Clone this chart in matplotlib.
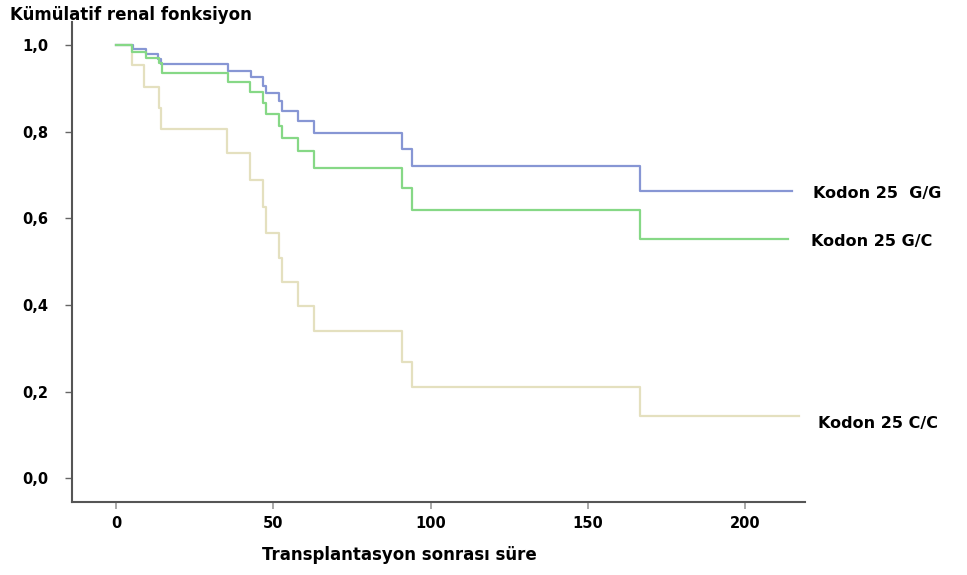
import matplotlib
matplotlib.use("Agg")
import matplotlib.pyplot as plt

# Kaplan-Meier style step data (time, cumulative survival)
gg_times = [0, 5.5, 9.4, 13.4, 14.2, 35.6, 42.9, 46.6, 47.6, 51.8, 52.6, 57.7, 63, 91, 94, 166.6, 215]
gg_surv = [1.0, 0.990, 0.979, 0.967, 0.955, 0.941, 0.926, 0.906, 0.888, 0.870, 0.848, 0.824, 0.797, 0.759, 0.720, 0.664, 0.664]

gc_times = [0, 5.1, 9.4, 13.7, 14.5, 35.6, 42.6, 46.6, 47.6, 51.8, 52.6, 57.7, 63, 91, 94, 166.6, 213.6]
gc_surv = [1.0, 0.983, 0.970, 0.958, 0.936, 0.915, 0.891, 0.867, 0.840, 0.812, 0.785, 0.755, 0.717, 0.669, 0.619, 0.551, 0.551]

cc_times = [0, 5.0, 9.0, 13.7, 14.3, 35.4, 42.7, 46.6, 47.7, 51.9, 52.6, 57.7, 63, 91, 94, 166.6, 217]
cc_surv = [1.0, 0.954, 0.904, 0.855, 0.806, 0.750, 0.688, 0.626, 0.566, 0.508, 0.453, 0.398, 0.340, 0.269, 0.211, 0.143, 0.143]

series_labels = ["Kodon 25  G/G", "Kodon 25 G/C", "Kodon 25 C/C"]
x_ticks = [0, 50, 100, 150, 200]
y_ticks = [0.0, 0.2, 0.4, 0.6, 0.8, 1.0]
y_tick_labels = ["0,0", "0,2", "0,4", "0,6", "0,8", "1,0"]

FONT = "DejaVu Sans"

fig = plt.figure(figsize=(9.67, 5.75), dpi=100)
ax = fig.add_axes([72 / 967, 1 - 502 / 575, (805 - 72) / 967, (502 - 22) / 575])

cc_col = "#e4e0bf"
gc_col = "#86d886"
gg_col = "#8796d4"

ax.step(cc_times, cc_surv, where="post", color=cc_col, lw=1.6)
ax.step(gg_times, gg_surv, where="post", color=gg_col, lw=1.6)
ax.step(gc_times, gc_surv, where="post", color=gc_col, lw=1.6)

ax.set_xlim(-14, 219)
ax.set_ylim(-0.055, 1.053)

for s in ["top", "right"]:
    ax.spines[s].set_visible(False)
for s in ["left", "bottom"]:
    ax.spines[s].set_color("#555555")
    ax.spines[s].set_linewidth(1.5)

ax.set_xticks(x_ticks)
ax.set_xticklabels([str(t) for t in x_ticks], fontfamily=FONT, fontweight="bold", fontsize=10.5)
ax.set_yticks(y_ticks)
ax.set_yticklabels(y_tick_labels, fontfamily=FONT, fontweight="bold", fontsize=10.5)
ax.tick_params(axis="x", length=5, width=1.2, color="#999999", pad=5)
ax.tick_params(axis="y", length=5, width=1.0, color="#666666", pad=12)

# end labels
label_pos = [(221.5, 0.656), (221.0, 0.547), (223.0, 0.127)]
for lab, (xx, yy) in zip(series_labels, label_pos):
    ax.text(xx, yy, lab, fontfamily=FONT, fontweight="bold", fontsize=11.5,
            ha="left", va="center", clip_on=False)

fig.text(10 / 967, 1 - 15 / 575, "Kümülatif renal fonksiyon", fontfamily=FONT,
         fontweight="bold", fontsize=12, ha="left", va="center")
fig.text(399 / 967, 1 - 555 / 575, "Transplantasyon sonrası süre", fontfamily=FONT,
         fontweight="bold", fontsize=12, ha="center", va="center")

fig.savefig("out.png", dpi=100, facecolor="white")
